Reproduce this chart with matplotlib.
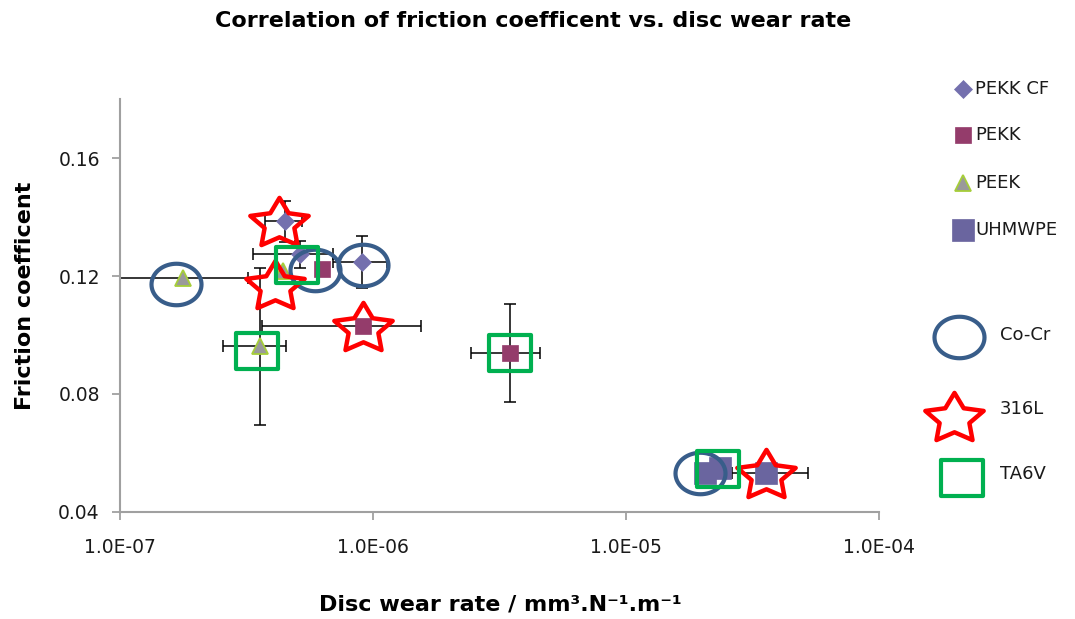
import numpy as np
import matplotlib
matplotlib.use('Agg')
import matplotlib.pyplot as plt
from matplotlib.lines import Line2D
from matplotlib.markers import MarkerStyle
from matplotlib.path import Path
from matplotlib.ticker import FixedLocator, FixedFormatter, NullLocator

# ---------------- data ----------------
counterfaces = ['Co-Cr', '316L', 'TA6V']
polymers = ['PEKK CF', 'PEKK', 'PEEK', 'UHMWPE']

# polymer series: values ordered as counterfaces (Co-Cr, 316L, TA6V)
pekkcf_wear = [9.05e-7, 4.49e-7, 5.15e-7]
pekkcf_mu = [0.1247, 0.1386, 0.1274]
pekkcf_wear_lo = [2.1e-7, 7.4e-8, 1.8e-7]
pekkcf_wear_hi = [2.3e-7, 7.4e-8, 1.8e-7]
pekkcf_mu_err = [0.0088, 0.0070, 0.0045]

pekk_wear = [6.29e-7, 9.13e-7, 3.48e-6]
pekk_mu = [0.1223, 0.1029, 0.0940]
pekk_wear_lo = [np.nan, 5.5e-7, 1.04e-6]
pekk_wear_hi = [np.nan, 6.4e-7, 1.09e-6]
pekk_mu_err = [np.nan, np.nan, 0.0166]

peek_wear = [1.77e-7, 4.41e-7, 3.58e-7]
peek_mu = [0.1192, 0.1216, 0.0961]
peek_wear_lo = [1.44e-7, np.nan, 1.03e-7]
peek_wear_hi = [1.44e-7, np.nan, 0.94e-7]
peek_mu_err = [np.nan, np.nan, 0.0267]

uhmwpe_wear = [2.05e-5, 3.58e-5, 2.35e-5]
uhmwpe_mu = [0.0532, 0.0532, 0.0549]
uhmwpe_wear_lo = [np.nan, 0.96e-5, np.nan]
uhmwpe_wear_hi = [np.nan, 1.66e-5, np.nan]
uhmwpe_mu_err = [np.nan, np.nan, np.nan]

# counterface highlight series
cocr_wear = [1.66e-7, 5.88e-7, 9.13e-7, 1.96e-5]
cocr_mu = [0.1172, 0.1220, 0.1236, 0.0532]
s316_wear = [4.25e-7, 4.10e-7, 9.13e-7, 3.58e-5]
s316_mu = [0.1386, 0.1172, 0.1032, 0.0532]
ta6v_wear = [5.01e-7, 3.48e-7, 3.48e-6, 2.31e-5]
ta6v_mu = [0.1238, 0.0944, 0.0940, 0.0546]

xtick_vals = [1e-7, 1e-6, 1e-5, 1e-4]
xtick_labels = ['1.0E-07', '1.0E-06', '1.0E-05', '1.0E-04']
ytick_vals = [0.04, 0.08, 0.12, 0.16]
ytick_labels = ['0.04', '0.08', '0.12', '0.16']

title = 'Correlation of friction coefficent vs. disc wear rate'
xlabel = 'Disc wear rate / mm\u00b3.N\u207b\u00b9.m\u207b\u00b9'
ylabel = 'Friction coefficent'

# ---------------- markers ----------------
t = np.linspace(0, 2 * np.pi, 73)
ellipse_path = Path(np.column_stack([np.cos(t), 0.83 * np.sin(t)]), closed=True)

ang = np.pi / 2 + np.arange(10) * np.pi / 5
rad = np.where(np.arange(10) % 2 == 0, 1.0, 0.51)
sx = rad * np.cos(ang)
sy = rad * np.sin(ang) * 0.85
sy = sy - (sy.max() + sy.min()) / 2
star_path = Path(np.vstack([np.column_stack([sx, sy]), [[sx[0], sy[0]]]]), closed=True)

rect_path = Path([(-1, -0.846), (1, -0.846), (1, 0.846), (-1, 0.846), (-1, -0.846)], closed=True)

cocr_marker = MarkerStyle(ellipse_path, joinstyle='round')
star_marker = MarkerStyle(star_path, joinstyle='miter')
rect_marker = MarkerStyle(rect_path, joinstyle='round')

COCR = '#385D8A'
RED = '#FF0000'
GREEN = '#00B050'

poly_styles = {
    'PEKK CF': dict(marker='D', ms=8.7, mfc='#7470AE', mec='#7470AE', mew=0.5),
    'PEKK': dict(marker='s', ms=12, mfc='#943C6B', mec='#943C6B', mew=0.5),
    'PEEK': dict(marker='^', ms=11.5, mfc='#9A9A9A', mec='#A6CE39', mew=1.3),
    'UHMWPE': dict(marker='s', ms=16, mfc='#6A659F', mec='#6A659F', mew=0.5),
}
cocr_style = dict(marker=cocr_marker, ms=36, mfc='none', mec=COCR, mew=3.0)
s316_style = dict(marker=star_marker, ms=42, mfc='none', mec=RED, mew=3.2)
ta6v_style = dict(marker=rect_marker, ms=30.5, mfc='none', mec=GREEN, mew=3.0)

# ---------------- figure ----------------
W, H = 1075, 619
fig = plt.figure(figsize=(W / 100, H / 100), dpi=100)
ax = fig.add_axes([120 / W, 1 - 511.7 / H, (879 - 120) / W, (511.7 - 99.3) / H])
ax.set_xscale('log')
ax.set_xlim(1e-7, 1e-4)
ax.set_ylim(0.04, 0.18)

series = [
    ('PEKK CF', pekkcf_wear, pekkcf_mu, pekkcf_wear_lo, pekkcf_wear_hi, pekkcf_mu_err),
    ('PEKK', pekk_wear, pekk_mu, pekk_wear_lo, pekk_wear_hi, pekk_mu_err),
    ('PEEK', peek_wear, peek_mu, peek_wear_lo, peek_wear_hi, peek_mu_err),
    ('UHMWPE', uhmwpe_wear, uhmwpe_mu, uhmwpe_wear_lo, uhmwpe_wear_hi, uhmwpe_mu_err),
]
for name, xw, ym, lo, hi, me in series:
    ax.errorbar(xw, ym, xerr=[lo, hi], yerr=[me, me], fmt='none', ecolor='black',
                elinewidth=1.1, capsize=4, capthick=1.1, zorder=2, clip_on=True)
    ax.plot(xw, ym, linestyle='none', zorder=3, **poly_styles[name])

ax.plot(cocr_wear, cocr_mu, linestyle='none', zorder=4, **cocr_style)
ax.plot(s316_wear, s316_mu, linestyle='none', zorder=5, **s316_style)
ax.plot(ta6v_wear, ta6v_mu, linestyle='none', zorder=6, **ta6v_style)

# axes styling
for s in ['top', 'right']:
    ax.spines[s].set_visible(False)
for s in ['left', 'bottom']:
    ax.spines[s].set_color('#A0A0A0')
    ax.spines[s].set_linewidth(1.5)
ax.xaxis.set_major_locator(FixedLocator(xtick_vals))
ax.xaxis.set_major_formatter(FixedFormatter(xtick_labels))
ax.xaxis.set_minor_locator(NullLocator())
ax.yaxis.set_major_locator(FixedLocator(ytick_vals))
ax.yaxis.set_major_formatter(FixedFormatter(ytick_labels))
ax.yaxis.set_minor_locator(NullLocator())
ax.tick_params(axis='both', direction='out', length=6, width=1.3, color='#A0A0A0',
               labelsize=13.5, labelcolor='#1a1a1a')
ax.tick_params(axis='y', pad=8.5)
ax.tick_params(axis='x', pad=13)

# titles
fig.text(533 / W, 1 - 21 / H, title, ha='center', va='center', fontsize=16,
         fontweight='bold', color='black')
fig.text(500 / W, 1 - 604 / H, xlabel, ha='center', va='center', fontsize=16,
         fontweight='bold', color='black')
fig.text(25 / W, 1 - 296 / H, ylabel, ha='center', va='center', rotation=90,
         fontsize=16, fontweight='bold', color='black')

# legend (top: polymers)
leg_poly_y = [89.3, 135, 183.3, 230]
for name, yy in zip(polymers, leg_poly_y):
    fig.add_artist(Line2D([963 / W], [1 - yy / H], transform=fig.transFigure,
                          linestyle='none', **poly_styles[name]))
    fig.text(975 / W, 1 - yy / H, name, ha='left', va='center', fontsize=13,
             color='#1a1a1a')

# legend (bottom: counterfaces)
leg_cf = [
    ('Co-Cr', cocr_style, 959.3, 336.7, 335),
    ('316L', s316_style, 954.3, 415.7, 409),
    ('TA6V', ta6v_style, 961.7, 478.3, 474),
]
for name, st, mx, my, ty in leg_cf:
    fig.add_artist(Line2D([mx / W], [1 - my / H], transform=fig.transFigure,
                          linestyle='none', **st))
    fig.text(1000 / W, 1 - ty / H, name, ha='left', va='center', fontsize=13,
             color='#1a1a1a')

fig.savefig('out.png', dpi=100, facecolor='white')
